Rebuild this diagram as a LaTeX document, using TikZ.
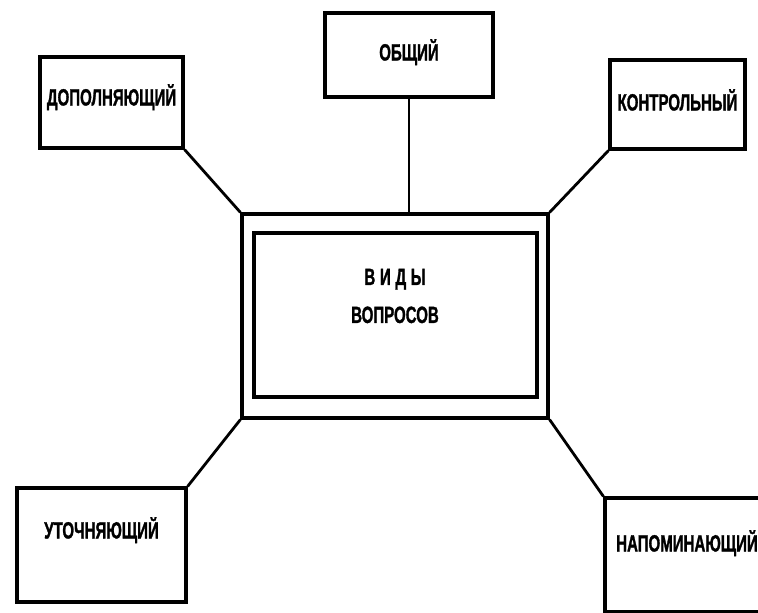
\documentclass[tikz,border=0pt]{standalone}
\usepackage{fontspec}
\setmainfont{Liberation Sans}[FakeStretch=0.64, BoldFeatures={FakeBold=1.2}]
\usetikzlibrary{positioning}

\begin{document}
\begin{tikzpicture} [
    x = 1pt, y = -1pt,
    every node/.style = {font = \fontsize{23.5}{28}\selectfont\bfseries, text height = 17pt},
    box/.style = {draw, line width = 3.2pt, inner sep = 0},
    link/.style = {line width = 2.8pt}
    ]

    \useasboundingbox (0,0) rectangle (758,613);

    % centre
    \node [box, minimum width = 306pt, minimum height = 204pt] (outer) at (395,316) {};
    \node [box, minimum width = 283pt, minimum height = 164pt] (inner) at (395.5,315) {};
    \node [align = center, text height = {}] (kinds) at (395,296) {{\addfontfeature{LetterSpace=20}ВИДЫ}\\[10pt]ВОПРОСОВ};

    % types
    \node [box, minimum width = 143pt, minimum height = 91pt, text depth = 11pt] (extra) at (111.5,102.5) {ДОПОЛНЯЮЩИЙ};
    \node [box, minimum width = 168pt, minimum height = 84pt, text depth = 6pt] (common) at (409,55) {ОБЩИЙ};
    \node [box, minimum width = 135pt, minimum height = 89pt, text depth = 5pt] (check) at (677.5,104.5) {КОНТРОЛЬНЫЙ};
    \node [box, minimum width = 169pt, minimum height = 114pt, text depth = 30pt] (clarify) at (101.5,545) {УТОЧНЯЮЩИЙ};
    \node [box, minimum width = 164pt, minimum height = 114pt, text depth = 24pt] (remind) at (687,555) {НАПОМИНАЮЩИЙ};

    \draw [link] (extra.south east) -- (outer.north west);
    \draw [line width = 1.6pt] (common.south) -- (common.south |- outer.north);
    \draw [link] (check.south west) -- (outer.north east);
    \draw [link] (clarify.north east) -- (outer.south west);
    \draw [link] (remind.north west) -- (outer.south east);

\end{tikzpicture}
\end{document}
